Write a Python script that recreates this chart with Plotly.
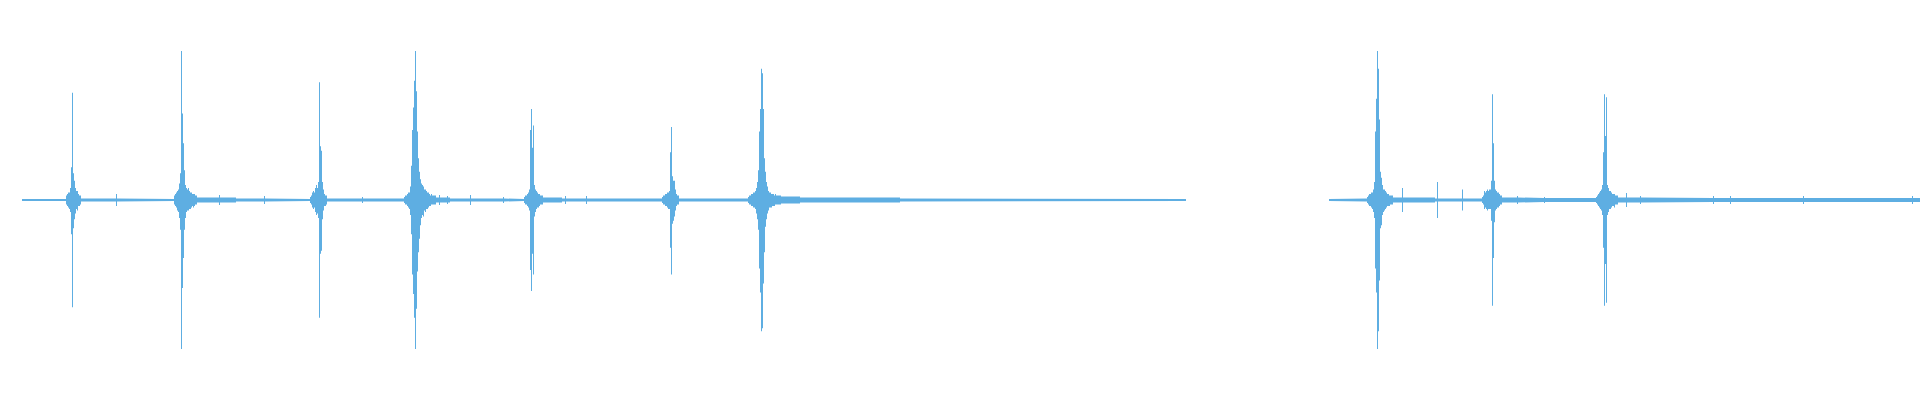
import plotly.graph_objects as go

# Waveform peak data (percent of full scale) per time bin (one bin = one screen column)
SEGMENTS = [(22, 1186), (1329, 1920)]          # recorded spans (bins); gap = no data
BASE_LEVEL = 0.7                                # idle level

# (start_bin, end_bin, noise level %)
NOISE_BLOCKS = [
    (22, 45, 0.7), (45, 62, 1.0), (80, 170, 1.0), (196, 236, 1.7), (236, 305, 1.0),
    (326, 404, 1.0), (435, 450, 1.7), (450, 520, 1.0), (542, 562, 1.7), (562, 662, 1.0),
    (678, 748, 1.0), (780, 800, 2.3), (800, 900, 1.7), (900, 970, 1.0), (970, 1080, 0.8),
    (1080, 1135, 1.0), (1135, 1186, 0.7),
    (1329, 1366, 0.7), (1392, 1435, 1.7), (1435, 1482, 1.0), (1501, 1540, 1.7),
    (1540, 1596, 1.3), (1617, 1700, 1.7), (1700, 1920, 1.3),
]

# isolated clicks: (bin, level %)
TICKS = [
    (116, 4.0), (219, 3.4), (264, 2.7), (362, 2.0), (439, 3.4), (447, 2.7), (470, 3.4),
    (503, 2.0), (565, 2.7), (586, 2.7), (1402, 8.0), (1437, 12.0), (1462, 7.0),
    (1517, 2.7), (1544, 2.0), (1626, 4.7), (1640, 2.7), (1713, 2.7), (1730, 2.7),
    (1803, 2.7), (1912, 2.7),
]

# transient bursts: start bin -> list of (positive peak %, negative peak %)
BURST_066 = [(3, 3), (4, 4), (5, 5), (5, 6), (8, 8), (22, 23), (72, 72), (18, 19), (13, 13),
             (8, 9), (6, 6), (6, 7), (4, 4), (3, 4), (3, 3)]
BURST_174 = [(3, 3), (4, 4), (5, 5), (6, 7), (7, 8), (11, 12), (18, 20), (100, 100), (58, 59),
             (38, 39), (20, 20), (10, 12), (8, 8), (7, 7), (8, 7), (6, 6), (5, 6), (5, 5),
             (4, 4), (4, 5), (4, 4), (3, 3), (3, 3)]
BURST_310 = [(2, 2), (3, 3), (5, 5), (6, 6), (5, 5), (8, 8), (10, 10), (8, 9), (12, 12),
             (79, 79), (36, 36), (33, 34), (12, 13), (7, 7), (4, 4), (3, 4), (3, 3)]
BURST_404 = [(2, 2), (3, 3), (3, 3), (4, 4), (5, 5), (5, 6), (9, 10), (23, 23), (47, 50),
             (62, 63), (80, 79), (100, 100), (73, 73), (46, 48), (28, 35), (19, 26), (14, 17),
             (11, 12), (10, 10), (9, 11), (7, 7), (7, 8), (6, 6), (5, 6), (5, 5), (4, 4),
             (3, 4), (4, 3), (3, 3), (3, 3), (3, 3), (3, 3)]
BURST_524 = [(2, 2), (3, 3), (3, 3), (4, 4), (5, 5), (7, 7), (47, 47), (61, 61), (35, 36),
             (50, 50), (10, 11), (7, 8), (6, 6), (5, 5), (4, 5), (4, 4), (3, 3), (3, 3), (3, 3)]
BURST_662 = [(2, 2), (3, 3), (3, 3), (4, 4), (4, 4), (5, 5), (5, 6), (6, 6), (32, 32),
             (49, 50), (16, 16), (13, 14), (13, 11), (7, 7), (4, 4), (3, 3), (3, 3)]
BURST_748 = [(2, 2), (3, 3), (3, 3), (4, 4), (4, 4), (5, 5), (5, 5), (6, 6), (8, 9), (12, 13),
             (20, 20), (46, 46), (61, 62), (88, 88), (85, 86), (61, 56), (28, 35), (19, 18),
             (12, 13), (9, 9), (6, 7), (5, 5), (5, 5), (4, 5), (4, 4), (4, 4), (3, 4), (4, 3),
             (3, 3), (3, 3), (3, 3), (3, 3), (3, 3)]
BURST_1366 = [(1, 1), (2, 2), (3, 3), (4, 4), (4, 4), (5, 5), (5, 6), (7, 8), (12, 12),
              (46, 46), (68, 62), (100, 100), (88, 88), (54, 54), (19, 19), (15, 17), (10, 10),
              (7, 8), (7, 7), (6, 6), (5, 5), (4, 4), (4, 4), (3, 4), (3, 3), (3, 3), (3, 3)]
BURST_1482 = [(2, 2), (3, 3), (6, 6), (5, 5), (6, 6), (7, 7), (6, 6), (7, 6), (7, 6), (13, 14),
              (71, 71), (38, 39), (13, 15), (7, 7), (6, 6), (5, 5), (5, 5), (4, 4), (3, 3), (3, 3)]
BURST_1596 = [(2, 2), (3, 3), (4, 4), (5, 5), (6, 6), (7, 7), (10, 10), (32, 32), (71, 71),
              (43, 43), (69, 69), (10, 10), (8, 8), (6, 6), (6, 6), (5, 5), (4, 4), (4, 4),
              (4, 5), (3, 3), (3, 3), (3, 3)]

BURSTS = {66: BURST_066, 174: BURST_174, 310: BURST_310, 404: BURST_404, 524: BURST_524,
          662: BURST_662, 748: BURST_748, 1366: BURST_1366, 1482: BURST_1482, 1596: BURST_1596}

COLOR = "#5EAEE2"
N_BINS = 1920

# ---- assemble per-bin envelope from the data above ----
up = [0.0] * N_BINS
dn = [0.0] * N_BINS
for s, e in SEGMENTS:
    for c in range(s, e):
        up[c] = dn[c] = BASE_LEVEL
for s, e, lv in NOISE_BLOCKS:
    for c in range(s, min(e, N_BINS)):
        up[c] = max(up[c], lv)
        dn[c] = max(dn[c], lv)
for c, lv in TICKS:
    up[c] = max(up[c], lv)
    dn[c] = max(dn[c], lv)
for start, vals in BURSTS.items():
    for i, (p, n) in enumerate(vals):
        c = start + i
        up[c] = max(up[c], p)
        dn[c] = max(dn[c], n)

fig = go.Figure()
for s, e in SEGMENTS:
    xs, ys = [], []
    for c in range(s, e):
        xs += [c - 0.5, c + 0.5]
        ys += [up[c], up[c]]
    for c in range(e - 1, s - 1, -1):
        xs += [c + 0.5, c - 0.5]
        ys += [-dn[c], -dn[c]]
    fig.add_trace(go.Scatter(x=xs, y=ys, mode="lines", fill="toself",
                             fillcolor=COLOR, line=dict(width=0, color=COLOR),
                             hoverinfo="skip", showlegend=False))

fig.update_layout(
    width=1920, height=400,
    margin=dict(l=0, r=0, t=0, b=0),
    paper_bgcolor="white", plot_bgcolor="white",
    xaxis=dict(visible=False, range=[-0.5, N_BINS - 0.5], fixedrange=True),
    yaxis=dict(visible=False, range=[-134.2, 134.2], fixedrange=True),
)
fig.write_html("out.html", config={"displayModeBar": False},
               post_script="document.body.style.margin='0';document.body.style.overflow='hidden';")
